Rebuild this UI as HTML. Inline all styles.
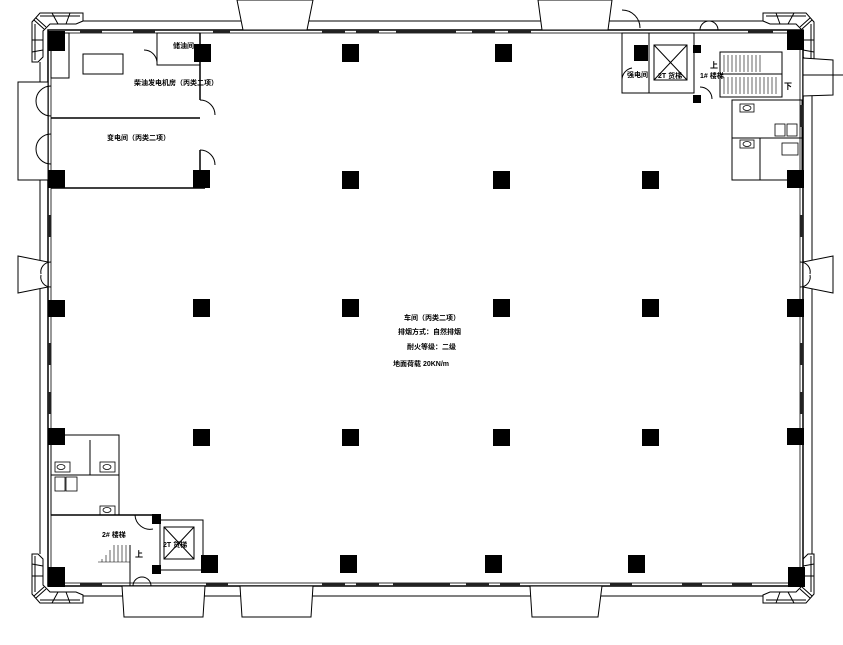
<!DOCTYPE html>
<html><head><meta charset="utf-8"><style>
html,body{margin:0;padding:0;background:#fff;width:843px;height:645px;overflow:hidden}
svg{display:block}
text{font-family:"Liberation Sans","Noto Sans CJK SC",sans-serif;font-size:7px;font-weight:bold;fill:#000}
</style></head><body>
<svg width="843" height="645" viewBox="0 0 843 645" xmlns="http://www.w3.org/2000/svg">
<defs>
<g id="corner" fill="#fff" stroke="#000" stroke-width="1">
<polygon points="40,13 83,13 83,21 76,24 50,24 43,31 43,57 38,62 32,62 32,22"/>
<path d="M36,18 L46,27 M32,40 L43,40 M32,52 L43,50 M52,13 L58,24 M70,13 L66,24 M34,20 L44,29"/>
<path d="M40,16 L80,16 M35,24 L35,60"/>
</g>
</defs>
<use href="#corner"/>
<use href="#corner" transform="translate(846,0) scale(-1,1)"/>
<use href="#corner" transform="translate(0,616) scale(1,-1)"/>
<use href="#corner" transform="translate(846,616) scale(-1,-1)"/>
<g fill="none" stroke="#000" stroke-width="1">
<!-- outer lines -->
<line x1="83" y1="21" x2="763" y2="21"/>
<line x1="40" y1="62" x2="40" y2="554"/>
<line x1="812" y1="62" x2="812" y2="554"/>
<line x1="83" y1="596" x2="763" y2="596"/>
<!-- inner wall -->
<rect x="48" y="30" width="755" height="556" stroke-width="1.5"/>
<rect x="51" y="33" width="749" height="550" stroke-width="0.8"/>
<!-- top buttresses -->
<polygon points="237,0 313,0 307,30 243,30" fill="#fff"/>
<polygon points="538,0 612,0 608,30 542,30" fill="#fff"/>
<!-- bottom buttresses -->
<polygon points="122,586 205,586 203,617 124,617" fill="#fff"/>
<polygon points="240,586 313,586 311,617 242,617" fill="#fff"/>
<polygon points="530,586 602,586 598,617 532,617" fill="#fff"/>
<!-- side buttresses -->
<polygon points="18,256 48,262 48,287 18,293" fill="#fff"/>
<polygon points="833,256 803,262 803,287 833,293" fill="#fff"/>
<polygon points="18,82 48,82 48,180 18,180" fill="#fff"/>
<polygon points="803,58 833,60 833,95 803,96" fill="#fff"/>
<line x1="803" y1="75" x2="843" y2="75"/>
<!-- top-left rooms -->
<rect x="51" y="33" width="18" height="45"/>
<line x1="51" y1="118" x2="200" y2="118" stroke-width="1.5"/>
<line x1="200" y1="33" x2="200" y2="100" stroke-width="1.5"/>
<line x1="200" y1="150" x2="200" y2="188" stroke-width="1.5"/>
<line x1="51" y1="188" x2="205" y2="188" stroke-width="1.5"/>
<rect x="157" y="33" width="43" height="32"/>
<rect x="83" y="54" width="40" height="20"/>
<path d="M157,62 a13,13 0 0 0 -13,-12"/>
<path d="M200,100 a15,15 0 0 1 15,15"/>
<path d="M200,150 a15,15 0 0 1 15,15"/>
<path d="M51,86 a15,15 0 0 0 -15,15 M51,116 a15,15 0 0 1 -15,-15"/>
<path d="M51,134 a15,15 0 0 0 -15,15 M51,164 a15,15 0 0 1 -15,-15"/>
<!-- top-right core -->
<rect x="622" y="33" width="27" height="60"/>
<rect x="649" y="33" width="45" height="60"/>
<rect x="654" y="45" width="33" height="35"/>
<line x1="654" y1="45" x2="687" y2="80"/><line x1="687" y1="45" x2="654" y2="80"/>
<path d="M622,10 a18,18 0 0 1 18,18"/>
<path d="M622,80 a12,12 0 0 1 10,-12"/>
<rect x="720" y="52" width="62" height="45"/>
<line x1="720" y1="74" x2="782" y2="74"/>
<g stroke-width="0.6">
<path d="M724,55v17M728,55v17M732,55v17M736,55v17M740,55v17M744,55v17M748,55v17M752,55v17M756,55v17M760,55v17"/>
<path d="M724,77v17M728,77v17M732,77v17M736,77v17M740,77v17M744,77v17M748,77v17M752,77v17M756,77v17M760,77v17M764,77v17M768,77v17M772,77v17M776,77v17"/>
</g>
<path d="M700,30 a9,9 0 0 1 9,-9 M718,30 a9,9 0 0 0 -9,-9"/>
<path d="M700,87 a12,12 0 0 1 12,12"/>
<rect x="732" y="100" width="70" height="80"/>
<line x1="732" y1="138" x2="802" y2="138"/>
<line x1="760" y1="138" x2="760" y2="180"/>
<!-- bottom-left core -->
<rect x="51" y="435" width="68" height="80"/>
<line x1="51" y1="475" x2="119" y2="475"/>
<line x1="90" y1="440" x2="90" y2="475"/>
<line x1="51" y1="515" x2="160" y2="515" stroke-width="1.5"/>
<path d="M135,515 a15,15 0 0 0 18,14"/>
<rect x="160" y="520" width="43" height="50"/>
<rect x="164" y="527" width="30" height="32"/>
<line x1="164" y1="527" x2="194" y2="559"/><line x1="194" y1="527" x2="164" y2="559"/>
<line x1="130" y1="545" x2="130" y2="586"/>
<g stroke-width="0.6"><path d="M98,562h32M114,545v17M118,545v17M122,545v17M126,545v17M110,550v12M106,555v7M102,559v3"/></g>
<path d="M133,586 a9,9 0 0 1 9,-9 M151,586 a9,9 0 0 0 -9,-9"/>
<!-- side doors -->
<path d="M51,262 a10,10 0 0 0 -10,12 M51,287 a10,10 0 0 1 -10,-12"/>
<path d="M800,262 a10,10 0 0 1 10,12 M800,287 a10,10 0 0 0 10,-12"/>
</g>
<!-- window bands -->
<g fill="#222">
<rect x="80" y="30" width="22" height="3"/><rect x="133" y="30" width="22" height="3"/>
<rect x="213" y="30" width="17" height="3"/><rect x="322" y="30" width="23" height="3"/>
<rect x="356" y="30" width="23" height="3"/><rect x="396" y="30" width="60" height="3"/>
<rect x="472" y="30" width="23" height="3"/><rect x="508" y="30" width="23" height="3"/>
<rect x="748" y="30" width="25" height="3"/>
<rect x="48" y="215" width="3" height="22"/><rect x="48" y="343" width="3" height="22"/><rect x="48" y="392" width="3" height="22"/>
<rect x="800" y="215" width="3" height="22"/><rect x="800" y="343" width="3" height="22"/><rect x="800" y="392" width="3" height="22"/>
<rect x="800" y="105" width="3" height="22"/>
<rect x="80" y="583" width="22" height="3"/><rect x="322" y="583" width="23" height="3"/>
<rect x="356" y="583" width="23" height="3"/><rect x="393" y="583" width="57" height="3"/>
<rect x="466" y="583" width="23" height="3"/><rect x="500" y="583" width="20" height="3"/>
<rect x="610" y="583" width="22" height="3"/><rect x="682" y="583" width="20" height="3"/><rect x="732" y="583" width="20" height="3"/>
<rect x="206" y="583" width="22" height="3"/>
</g>
<!-- fixtures -->
<g fill="none" stroke="#000" stroke-width="0.8">
<rect x="740" y="104" width="14" height="8"/><ellipse cx="747" cy="108" rx="4" ry="2.5"/>
<rect x="740" y="140" width="14" height="8"/><ellipse cx="747" cy="144" rx="4" ry="2.5"/>
<rect x="775" y="124" width="10" height="12"/><rect x="787" y="124" width="10" height="12"/>
<rect x="782" y="143" width="16" height="12"/>
<rect x="55" y="462" width="15" height="10"/><ellipse cx="61" cy="467" rx="4" ry="2.5"/>
<rect x="100" y="462" width="15" height="10"/><ellipse cx="107" cy="467" rx="4" ry="2.5"/>
<rect x="100" y="506" width="15" height="9"/><ellipse cx="107" cy="510" rx="4" ry="2.5"/>
<rect x="55" y="477" width="10" height="14"/><rect x="66" y="477" width="11" height="14"/>
</g>
<!-- columns -->
<g fill="#000">
<rect x="48" y="31" width="17" height="20"/>
<rect x="194" y="44" width="17" height="18"/>
<rect x="342" y="44" width="17" height="18"/>
<rect x="495" y="44" width="17" height="18"/>
<rect x="634" y="45" width="14" height="16"/>
<rect x="787" y="30" width="17" height="20"/>
<rect x="48" y="170" width="17" height="18"/>
<rect x="193" y="170" width="17" height="18"/>
<rect x="342" y="171" width="17" height="18"/>
<rect x="493" y="171" width="17" height="18"/>
<rect x="642" y="171" width="17" height="18"/>
<rect x="787" y="170" width="17" height="18"/>
<rect x="48" y="300" width="17" height="17"/>
<rect x="193" y="299" width="17" height="18"/>
<rect x="342" y="299" width="17" height="18"/>
<rect x="493" y="299" width="17" height="18"/>
<rect x="642" y="299" width="17" height="18"/>
<rect x="787" y="299" width="17" height="18"/>
<rect x="48" y="428" width="17" height="17"/>
<rect x="193" y="429" width="17" height="17"/>
<rect x="342" y="429" width="17" height="17"/>
<rect x="493" y="429" width="17" height="17"/>
<rect x="642" y="429" width="17" height="17"/>
<rect x="787" y="428" width="17" height="17"/>
<rect x="48" y="567" width="17" height="20"/>
<rect x="201" y="555" width="17" height="18"/>
<rect x="340" y="555" width="17" height="18"/>
<rect x="485" y="555" width="17" height="18"/>
<rect x="628" y="555" width="17" height="18"/>
<rect x="788" y="567" width="17" height="20"/>
<rect x="152" y="514" width="9" height="10"/>
<rect x="152" y="565" width="9" height="9"/>
<rect x="693" y="45" width="8" height="8"/>
<rect x="693" y="95" width="8" height="8"/>
</g>
<!-- labels -->
<text x="173" y="48">储油间</text>
<text x="134" y="85">柴油发电机房（丙类二项）</text>
<text x="107" y="140">变电间（丙类二项）</text>
<text x="627" y="77">强电间</text>
<text x="658" y="78">2T 货梯</text>
<text x="700" y="78">1# 楼梯</text>
<text x="710" y="68" style="font-size:8px">上</text>
<text x="784" y="89" style="font-size:8px">下</text>
<text x="102" y="537">2# 楼梯</text>
<text x="135" y="557" style="font-size:8px">上</text>
<text x="163" y="547">2T 货梯</text>
<text x="404" y="320">车间（丙类二项）</text>
<text x="398" y="334">排烟方式：自然排烟</text>
<text x="407" y="349">耐火等级：二级</text>
<text x="393" y="366">地面荷载 20KN/m</text>
</svg>
</body></html>
